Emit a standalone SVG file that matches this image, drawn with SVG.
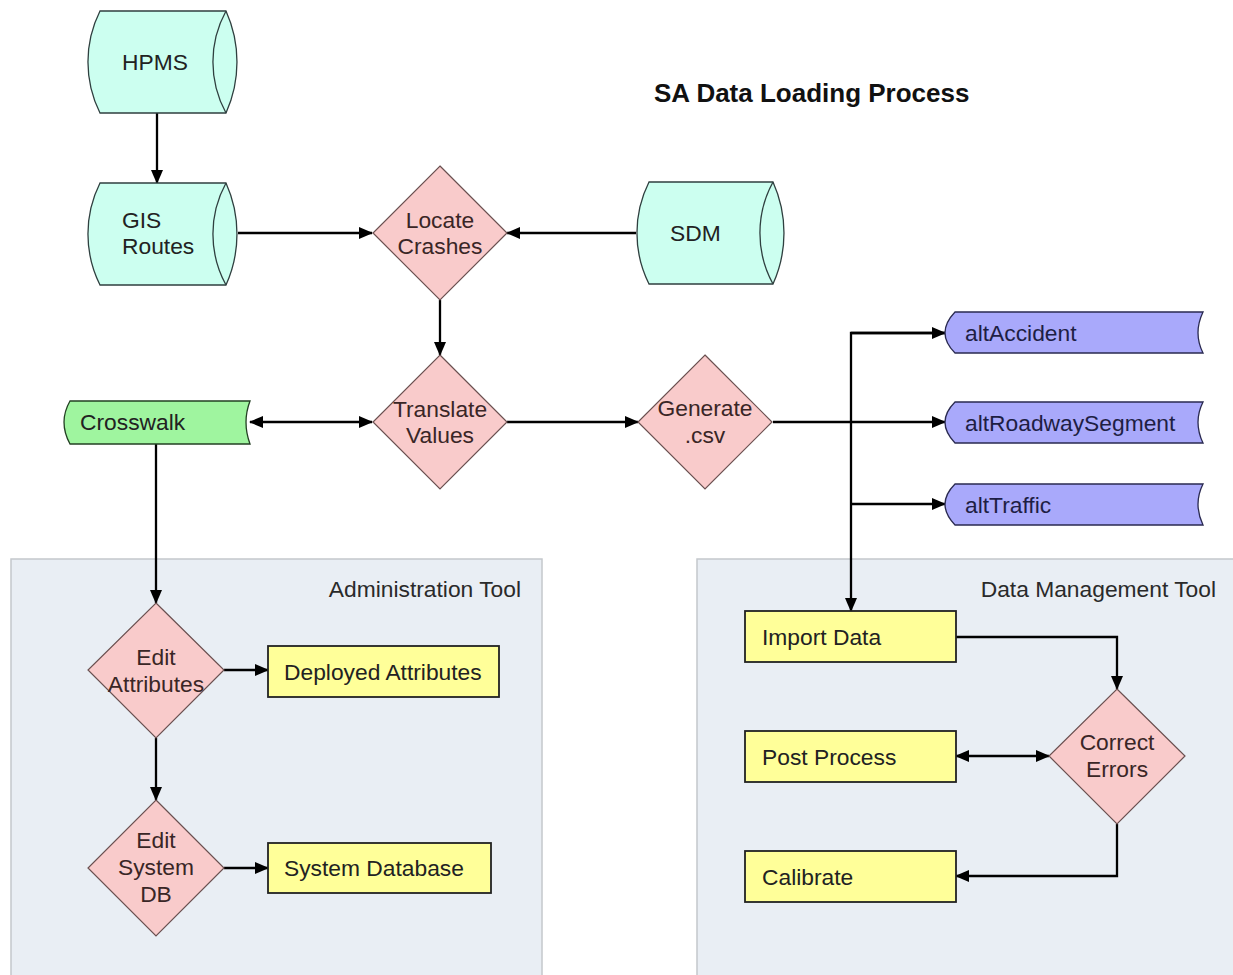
<svg xmlns="http://www.w3.org/2000/svg" width="1233" height="975" viewBox="0 0 1233 975">
  <style>
    text { font-family: "Liberation Sans", Arial, sans-serif; font-size: 22.8px; fill: #222; }
    .title { font-size: 26px; font-weight: bold; fill: #111; }
    .panel { fill: #e9eef4; stroke: #c4c8cc; stroke-width: 1.5; }
    .panel-label { fill: #2a2a2a; text-anchor: end; }
    .store { fill: #ccfff0; stroke: #2f3f3f; stroke-width: 1.3; }
    .decision { fill: #f9cbcb; stroke: #6a5050; stroke-width: 1.2; }
    .decision-text { fill: #3a2626; text-anchor: middle; }
    .process { fill: #ffff99; stroke: #222; stroke-width: 1.8; }
    .table { fill: #a9a9fb; stroke: #2a2a50; stroke-width: 1.3; }
    .table-text { fill: #1e1e44; }
    .xwalk { fill: #9ff59f; stroke: #234023; stroke-width: 1.3; }
    .edge { fill: none; stroke: #000; stroke-width: 2.3; }
    .edge-arrow { marker-end: url(#arrow); }
    .edge-both { marker-start: url(#arrow); marker-end: url(#arrow); }
  </style>
  <defs>
    <marker id="arrow" viewBox="0 0 14 12" refX="13" refY="6" markerWidth="14" markerHeight="12" markerUnits="userSpaceOnUse" orient="auto-start-reverse">
      <path d="M0,0 L14,6 L0,12 z" fill="#000"/>
    </marker>
  </defs>

  <rect width="1233" height="975" fill="#fff"/>

  <!-- tool panels -->
  <g id="admin-tool">
    <rect class="panel" x="11" y="559" width="531" height="430"/>
    <text class="panel-label" x="521" y="597">Administration Tool</text>
  </g>
  <g id="data-management-tool">
    <rect class="panel" x="697" y="559" width="560" height="430"/>
    <text class="panel-label" x="1216" y="597">Data Management Tool</text>
  </g>

  <text class="title" x="654" y="102">SA Data Loading Process</text>

  <!-- connectors -->
  <g id="connectors">
    <path class="edge edge-arrow" d="M157,113 V183"/>
    <path class="edge edge-arrow" d="M238,233 H372"/>
    <path class="edge edge-arrow" d="M636,233 H507"/>
    <path class="edge edge-arrow" d="M440,300 V355"/>
    <path class="edge edge-both" d="M250,422 H372"/>
    <path class="edge edge-arrow" d="M507,422 H638"/>
    <path class="edge" d="M773,422 H851" stroke-width="3.2"/>
    <path class="edge edge-arrow" d="M851,422 H945"/>
    <path class="edge edge-arrow" d="M945,333 H851 V611"/>
    <path class="edge edge-arrow" d="M851,333 H945"/>
    <path class="edge edge-arrow" d="M851,504 H945"/>
    <path class="edge edge-arrow" d="M156,444 V603"/>
    <path class="edge edge-arrow" d="M224,670 H268"/>
    <path class="edge edge-arrow" d="M156,738 V800"/>
    <path class="edge edge-arrow" d="M224,868 H268"/>
    <path class="edge edge-arrow" d="M956,637 H1117 V689"/>
    <path class="edge edge-both" d="M956,756 H1049"/>
    <path class="edge edge-arrow" d="M1117,824 V876 H956"/>
  </g>

  <!-- data stores -->
  <g id="hpms">
    <path class="store" d="M100,11 H226 A124,124 0 0 1 226,113 H100 A114,114 0 0 1 100,11 Z"/>
    <path class="store" d="M226,11 A106,106 0 0 0 226,113" fill="none"/>
    <text x="122" y="70">HPMS</text>
  </g>
  <g id="gis-routes">
    <path class="store" d="M100,183 H226 A124,124 0 0 1 226,285 H100 A114,114 0 0 1 100,183 Z"/>
    <path class="store" d="M226,183 A106,106 0 0 0 226,285" fill="none"/>
    <text x="122" y="228">GIS</text>
    <text x="122" y="254">Routes</text>
  </g>
  <g id="sdm">
    <path class="store" d="M649,182 H773 A124,124 0 0 1 773,284 H649 A114,114 0 0 1 649,182 Z"/>
    <path class="store" d="M773,182 A106,106 0 0 0 773,284" fill="none"/>
    <text x="670" y="241">SDM</text>
  </g>

  <!-- decisions -->
  <g id="locate-crashes">
    <path class="decision" d="M440,166 L507,233 L440,300 L373,233 Z"/>
    <text class="decision-text" x="440" y="228">Locate</text>
    <text class="decision-text" x="440" y="254">Crashes</text>
  </g>
  <g id="translate-values">
    <path class="decision" d="M440,355 L507,422 L440,489 L373,422 Z"/>
    <text class="decision-text" x="440" y="417">Translate</text>
    <text class="decision-text" x="440" y="443">Values</text>
  </g>
  <g id="generate-csv">
    <path class="decision" d="M705,355 L772,422 L705,489 L638,422 Z"/>
    <text class="decision-text" x="705" y="416">Generate</text>
    <text class="decision-text" x="705" y="443">.csv</text>
  </g>
  <g id="edit-attributes">
    <path class="decision" d="M156,603 L224,670 L156,738 L88,670 Z"/>
    <text class="decision-text" x="156" y="665">Edit</text>
    <text class="decision-text" x="156" y="692">Attributes</text>
  </g>
  <g id="edit-system-db">
    <path class="decision" d="M156,800 L224,868 L156,936 L88,868 Z"/>
    <text class="decision-text" x="156" y="848">Edit</text>
    <text class="decision-text" x="156" y="875">System</text>
    <text class="decision-text" x="156" y="902">DB</text>
  </g>
  <g id="correct-errors">
    <path class="decision" d="M1117,689 L1185,756 L1117,824 L1049,756 Z"/>
    <text class="decision-text" x="1117" y="750">Correct</text>
    <text class="decision-text" x="1117" y="777">Errors</text>
  </g>

  <!-- stored tables -->
  <g id="crosswalk">
    <path class="xwalk" d="M70,401 H250 Q242,422 250,444 H70 Q58,422 70,401 Z"/>
    <text x="80" y="430">Crosswalk</text>
  </g>
  <g id="alt-accident">
    <path class="table" d="M955,312 H1203 Q1193,333 1203,353 H955 Q935,333 955,312 Z"/>
    <text class="table-text" x="965" y="341">altAccident</text>
  </g>
  <g id="alt-roadway-segment">
    <path class="table" d="M955,402 H1203 Q1193,422 1203,443 H955 Q935,422 955,402 Z"/>
    <text class="table-text" x="965" y="431">altRoadwaySegment</text>
  </g>
  <g id="alt-traffic">
    <path class="table" d="M955,484 H1203 Q1193,504 1203,525 H955 Q935,504 955,484 Z"/>
    <text class="table-text" x="965" y="513">altTraffic</text>
  </g>

  <!-- processes -->
  <g id="deployed-attributes">
    <rect class="process" x="268" y="646" width="231" height="51"/>
    <text x="284" y="680">Deployed Attributes</text>
  </g>
  <g id="system-database">
    <rect class="process" x="268" y="843" width="223" height="50"/>
    <text x="284" y="876">System Database</text>
  </g>
  <g id="import-data">
    <rect class="process" x="745" y="611" width="211" height="51"/>
    <text x="762" y="645">Import Data</text>
  </g>
  <g id="post-process">
    <rect class="process" x="745" y="731" width="211" height="51"/>
    <text x="762" y="765">Post Process</text>
  </g>
  <g id="calibrate">
    <rect class="process" x="745" y="851" width="211" height="51"/>
    <text x="762" y="885">Calibrate</text>
  </g>
</svg>
